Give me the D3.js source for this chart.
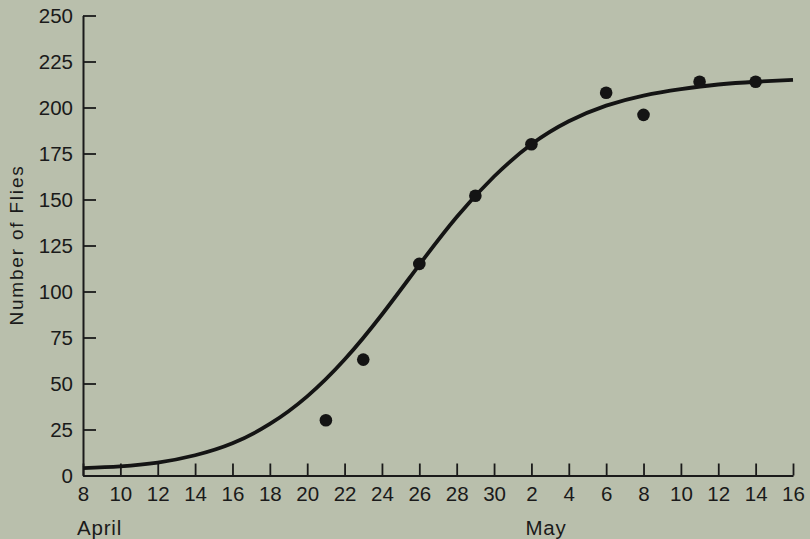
<!DOCTYPE html>
<html>
<head>
<meta charset="utf-8">
<script src="https://cdn.jsdelivr.net/npm/d3@7"></script>
<style>
  html, body { margin: 0; padding: 0; background: #b9bfac; }
  svg { display: block; }
  text { font-family: "Liberation Sans", Arial, Helvetica, sans-serif; fill: #1a1a1a; }
</style>
</head>
<body>
<svg id="chart" width="810" height="539"></svg>
<script>
// ---- data ----
const xTickDates = ["04-08","04-10","04-12","04-14","04-16","04-18","04-20","04-22","04-24","04-26","04-28","04-30",
                    "05-02","05-04","05-06","05-08","05-10","05-12","05-14","05-16"];
const yTicks = [0, 25, 50, 75, 100, 125, 150, 175, 200, 225, 250];
const monthLabels = ["April", "May"];
const monthLabelDates = ["04-08", "05-02"];

const obsDates = ["04-21","04-23","04-26","04-29","05-02","05-06","05-08","05-11","05-14"];
const obsFlies = [30, 63, 115, 152, 180, 208, 196, 214, 214];

const curveDates = ["04-08","04-10","04-12","04-14","04-16","04-18","04-20","04-22","04-24","04-26","04-28","04-30",
                    "05-02","05-04","05-06","05-08","05-10","05-12","05-14","05-16"];
const curveFlies = [4, 5, 7, 11, 17.5, 28, 43, 63, 87.5, 114.5, 140.5, 162.5,
                    180, 192.5, 201, 206.5, 210, 212.5, 214, 215];

const yTitle = "Number of Flies";

(function () {
  const parse = d3.utcParse("%Y-%m-%d");
  const toDate = s => parse("2001-" + s);

  const svg = d3.select("#chart");
  const W = 810, H = 539;
  const mLeft = 83, mRight = 793, mTop = 15.5, mBottom = 475.5;

  svg.append("rect").attr("width", W).attr("height", H).attr("fill", "#b9bfac");

  const x = d3.scaleUtc().domain([toDate("04-08"), toDate("05-16")]).range([mLeft, mRight]);
  const y = d3.scaleLinear().domain([0, 250]).range([mBottom, mTop]);

  const FS = "20.5px";

  const yAxis = svg.append("g")
    .attr("transform", `translate(${mLeft},0)`)
    .call(d3.axisLeft(y).tickValues(yTicks).tickSizeInner(-13).tickSizeOuter(0).tickPadding(10));
  const xAxis = svg.append("g")
    .attr("transform", `translate(0,${mBottom})`)
    .call(d3.axisBottom(x).tickValues(xTickDates.map(toDate)).tickSizeInner(-12).tickSizeOuter(0)
          .tickPadding(10.5).tickFormat(d3.utcFormat("%-d")));

  [yAxis, xAxis].forEach(g => {
    g.select(".domain").attr("stroke", "#1a1a1a").attr("stroke-width", 2);
    g.selectAll(".tick line").attr("stroke", "#1a1a1a").attr("stroke-width", 1.8);
    g.selectAll(".tick text").attr("fill", "#1a1a1a").style("font-size", FS)
      .style("font-family", '"Liberation Sans", Arial, Helvetica, sans-serif');
  });

  svg.selectAll("text.month").data(monthLabels).enter().append("text")
    .attr("class", "month")
    .attr("x", (d, i) => x(toDate(monthLabelDates[i])) - 6)
    .attr("y", 534.5)
    .attr("text-anchor", "start")
    .style("font-size", FS)
    .style("letter-spacing", "0.8px")
    .text(d => d);

  svg.append("text")
    .attr("transform", "translate(23,245) rotate(-90)")
    .attr("text-anchor", "middle")
    .style("font-size", "19px")
    .style("letter-spacing", "1.8px")
    .text(yTitle);

  const curveData = curveDates.map((d, i) => ({ date: toDate(d), v: curveFlies[i] }));
  svg.append("path")
    .datum(curveData)
    .attr("fill", "none")
    .attr("stroke", "#141414")
    .attr("stroke-width", 3.8)
    .attr("d", d3.line().x(d => x(d.date)).y(d => y(d.v)).curve(d3.curveNatural));

  svg.selectAll("circle.obs").data(obsDates).enter().append("circle")
    .attr("class", "obs")
    .attr("cx", d => x(toDate(d)))
    .attr("cy", (d, i) => y(obsFlies[i]))
    .attr("r", 6.3)
    .attr("fill", "#141414");
})();
</script>
</body>
</html>
